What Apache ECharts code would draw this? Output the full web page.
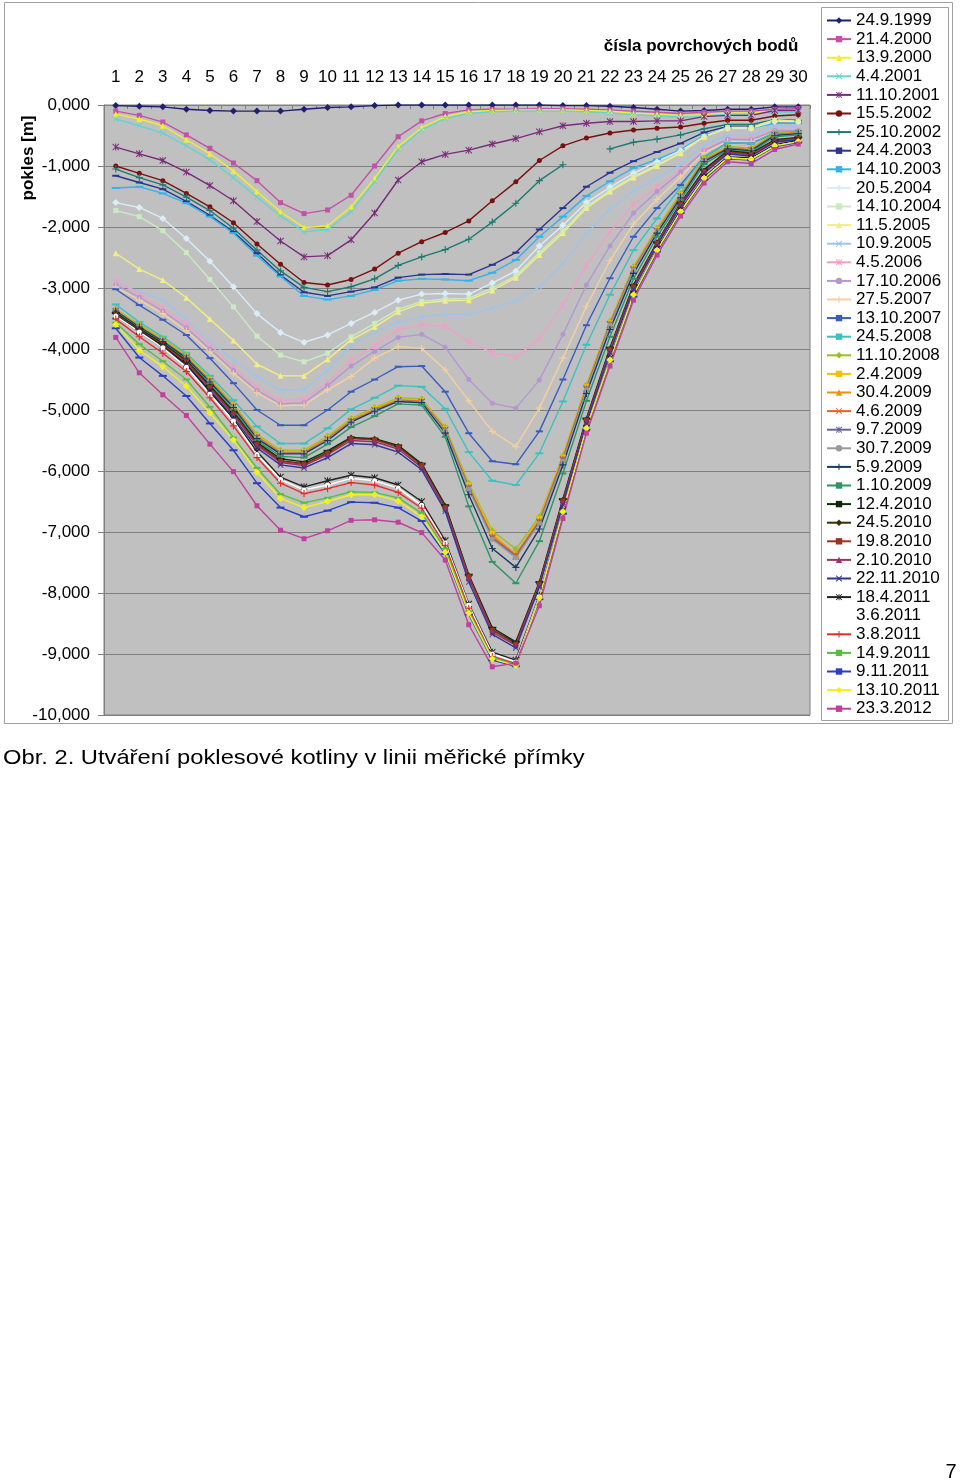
<!DOCTYPE html>
<html><head><meta charset="utf-8">
<script src="https://cdn.jsdelivr.net/npm/echarts@6/dist/echarts.min.js"></script>
<style>html,body{margin:0;padding:0;background:#fff}#c{width:960px;height:1482px}</style>
</head><body><div id="c"></div>
<script>
const categories = ['1','2','3','4','5','6','7','8','9','10','11','12','13','14','15','16','17','18','19','20','21','22','23','24','25','26','27','28','29','30'];
const yMin = -10, yMax = 0, yStep = 1;

const d_24_9_1999 = [-0.01,-0.02,-0.03,-0.07,-0.09,-0.10,-0.10,-0.10,-0.07,-0.04,-0.03,-0.01,0,0,0,0,0,0,0,-0.01,-0.01,-0.02,-0.04,-0.07,-0.10,-0.09,-0.07,-0.07,-0.03,-0.03];
const d_21_4_2000 = [-0.10,-0.17,-0.28,-0.49,-0.71,-0.95,-1.24,-1.60,-1.78,-1.72,-1.48,-1.00,-0.52,-0.26,-0.14,-0.08,-0.07,-0.07,-0.06,-0.06,-0.07,-0.08,-0.10,-0.12,-0.14,-0.12,-0.10,-0.10,-0.07,-0.06];
const d_13_9_2000 = [-0.15,-0.23,-0.34,-0.57,-0.80,-1.08,-1.42,-1.75,-2.01,-1.98,-1.67,-1.20,-0.68,-0.37,-0.19,-0.11,-0.09,-0.08,-0.08,-0.08,-0.09,-0.10,-0.14,-0.15,-0.17,-0.16,-0.13,-0.13,-0.10,-0.10];
const d_4_4_2001 = [-0.23,-0.34,-0.46,-0.67,-0.90,-1.19,-1.51,-1.82,-2.08,-2.04,-1.75,-1.26,-0.73,-0.41,-0.22,-0.14,-0.11,-0.10,-0.10,-0.10,-0.11,-0.13,-0.16,-0.18,-0.20,-0.18,-0.15,-0.15,-0.12,-0.12];
const d_11_10_2001 = [-0.69,-0.80,-0.91,-1.10,-1.32,-1.57,-1.91,-2.23,-2.49,-2.47,-2.21,-1.77,-1.23,-0.93,-0.81,-0.74,-0.64,-0.55,-0.44,-0.34,-0.30,-0.27,-0.27,-0.26,-0.26,-0.19,-0.17,-0.17,-0.09,-0.09];
const d_15_5_2002 = [-1.00,-1.12,-1.24,-1.45,-1.67,-1.93,-2.28,-2.61,-2.91,-2.95,-2.86,-2.69,-2.43,-2.24,-2.09,-1.90,-1.57,-1.26,-0.91,-0.67,-0.54,-0.46,-0.41,-0.38,-0.36,-0.30,-0.25,-0.25,-0.18,-0.16];
const d_25_10_2002 = [-1.05,-1.19,-1.31,-1.51,-1.73,-2.02,-2.38,-2.72,-2.99,-3.06,-2.98,-2.85,-2.63,-2.49,-2.37,-2.20,-1.92,-1.61,-1.24,-0.98,null,-0.72,-0.61,-0.56,-0.49,-0.39,-0.32,-0.32,-0.24,-0.25];
const d_24_4_2003 = [-1.16,-1.27,-1.38,-1.58,-1.81,-2.08,-2.43,-2.79,-3.07,-3.13,-3.06,-2.99,-2.83,-2.78,-2.77,-2.78,-2.62,-2.42,-2.04,-1.69,-1.34,-1.11,-0.92,-0.77,-0.63,-0.45,-0.35,-0.35,-0.28,-0.27];
const d_14_10_2003 = [-1.36,-1.34,-1.45,-1.61,-1.83,-2.10,-2.47,-2.81,-3.13,-3.19,-3.13,-3.03,-2.88,-2.85,-2.86,-2.88,-2.75,-2.54,-2.16,-1.83,-1.49,-1.25,-1.03,-0.89,-0.73,-0.50,-0.38,-0.38,-0.30,-0.30];
const d_20_5_2004 = [-1.60,-1.68,-1.86,-2.19,-2.56,-2.98,-3.42,-3.73,-3.89,-3.77,-3.58,-3.40,-3.20,-3.10,-3.09,-3.10,-2.92,-2.72,-2.31,-1.97,-1.60,-1.35,-1.12,-0.93,-0.75,-0.52,-0.38,-0.38,-0.27,-0.27];
const d_14_10_2004 = [-1.73,-1.83,-2.06,-2.42,-2.86,-3.31,-3.79,-4.10,-4.21,-4.07,-3.80,-3.58,-3.35,-3.22,-3.18,-3.17,-3.00,-2.80,-2.42,-2.06,-1.66,-1.40,-1.17,-0.98,-0.78,-0.52,-0.37,-0.37,-0.25,-0.27];
const d_11_5_2005 = [-2.43,-2.69,-2.87,-3.16,-3.51,-3.86,-4.25,-4.44,-4.44,-4.17,-3.85,-3.64,-3.39,-3.25,-3.21,-3.20,-3.04,-2.83,-2.46,-2.10,-1.69,-1.42,-1.19,-1.00,-0.79,-0.52,-0.37,-0.37,-0.24,-0.27];
const d_10_9_2005 = [-2.92,-3.06,-3.20,-3.51,-3.88,-4.18,-4.45,-4.68,-4.67,-4.35,-3.95,-3.72,-3.56,-3.47,-3.43,-3.43,-3.33,-3.22,-2.98,-2.60,-2.11,-1.71,-1.41,-1.20,-0.98,-0.66,-0.50,-0.50,-0.35,-0.35];
const d_4_5_2006 = [-2.88,-3.10,-3.33,-3.58,-3.93,-4.29,-4.63,-4.85,-4.82,-4.55,-4.18,-3.95,-3.69,-3.60,-3.63,-3.88,-4.06,-4.13,-3.83,-3.28,-2.63,-2.08,-1.63,-1.34,-1.07,-0.74,-0.55,-0.55,-0.40,-0.40];
const d_17_10_2006 = [-2.95,-3.15,-3.38,-3.65,-4.00,-4.35,-4.68,-4.90,-4.88,-4.60,-4.28,-4.04,-3.81,-3.76,-3.97,-4.50,-4.89,-4.97,-4.51,-3.76,-2.95,-2.31,-1.77,-1.42,-1.10,-0.75,-0.56,-0.57,-0.42,-0.42];
const d_27_5_2007 = [-2.98,-3.20,-3.42,-3.70,-4.05,-4.40,-4.72,-4.93,-4.92,-4.67,-4.45,-4.15,-3.96,-3.99,-4.34,-4.85,-5.35,-5.60,-4.97,-4.15,-3.30,-2.55,-1.95,-1.55,-1.18,-0.78,-0.60,-0.60,-0.45,-0.45];
const d_13_10_2007 = [-3.02,-3.28,-3.52,-3.77,-4.15,-4.56,-5.00,-5.25,-5.25,-5.00,-4.70,-4.50,-4.29,-4.28,-4.70,-5.38,-5.84,-5.89,-5.35,-4.50,-3.61,-2.84,-2.16,-1.69,-1.31,-0.85,-0.62,-0.63,-0.46,-0.45];
const d_24_5_2008 = [-3.27,-3.56,-3.80,-4.07,-4.44,-4.84,-5.27,-5.55,-5.55,-5.30,-4.99,-4.80,-4.60,-4.62,-4.98,-5.69,-6.16,-6.23,-5.71,-4.86,-3.93,-3.11,-2.38,-1.86,-1.35,-0.85,-0.62,-0.63,-0.45,-0.43];
const d_11_10_2008 = [-3.35,-3.60,-3.83,-4.10,-4.48,-4.90,-5.40,-5.66,-5.66,-5.43,-5.14,-4.96,-4.80,-4.82,-5.28,-6.20,-6.98,-7.28,-6.75,-5.75,-4.59,-3.55,-2.65,-2.02,-1.45,-0.87,-0.68,-0.71,-0.46,-0.44];
const d_2_4_2009 = [-3.36,-3.62,-3.85,-4.12,-4.50,-4.92,-5.42,-5.68,-5.68,-5.45,-5.16,-4.98,-4.82,-4.84,-5.30,-6.23,-7.02,-7.38,-6.78,-5.77,-4.62,-3.57,-2.67,-2.04,-1.47,-0.89,-0.70,-0.73,-0.48,-0.45];
const d_30_4_2009 = [-3.37,-3.63,-3.86,-4.13,-4.51,-4.93,-5.43,-5.69,-5.69,-5.46,-5.17,-4.99,-4.83,-4.85,-5.31,-6.25,-7.05,-7.36,-6.80,-5.78,-4.63,-3.58,-2.68,-2.05,-1.48,-0.90,-0.70,-0.73,-0.48,-0.45];
const d_4_6_2009 = [-3.37,-3.63,-3.87,-4.14,-4.52,-4.94,-5.44,-5.70,-5.70,-5.47,-5.18,-5.00,-4.84,-4.86,-5.32,-6.27,-7.08,-7.38,-6.82,-5.80,-4.64,-3.59,-2.69,-2.06,-1.49,-0.91,-0.71,-0.74,-0.49,-0.46];
const d_9_7_2009 = [-3.38,-3.64,-3.87,-4.14,-4.53,-4.95,-5.45,-5.71,-5.71,-5.48,-5.19,-5.01,-4.85,-4.87,-5.33,-6.28,-7.10,-7.40,-6.84,-5.82,-4.66,-3.60,-2.70,-2.07,-1.50,-0.92,-0.71,-0.74,-0.49,-0.46];
const d_30_7_2009 = [-3.38,-3.64,-3.88,-4.15,-4.53,-4.95,-5.45,-5.71,-5.71,-5.48,-5.19,-5.01,-4.85,-4.87,-5.34,-6.30,-7.12,-7.42,-6.86,-5.84,-4.67,-3.61,-2.71,-2.07,-1.50,-0.92,-0.72,-0.75,-0.50,-0.46];
const d_5_9_2009 = [-3.38,-3.64,-3.88,-4.15,-4.54,-4.96,-5.47,-5.72,-5.72,-5.50,-5.20,-5.02,-4.86,-4.88,-5.38,-6.39,-7.27,-7.58,-6.95,-5.90,-4.73,-3.68,-2.76,-2.10,-1.52,-0.93,-0.72,-0.75,-0.50,-0.47];
const d_1_10_2009 = [-3.40,-3.66,-3.90,-4.18,-4.58,-5.00,-5.50,-5.76,-5.78,-5.56,-5.28,-5.10,-4.90,-4.92,-5.44,-6.58,-7.49,-7.84,-7.15,-6.04,-4.85,-3.80,-2.85,-2.16,-1.56,-0.97,-0.74,-0.77,-0.52,-0.49];
const d_12_4_2010 = [-3.41,-3.67,-3.91,-4.19,-4.60,-5.03,-5.53,-5.80,-5.85,-5.67,-5.45,-5.47,-5.58,-5.88,-6.56,-7.70,-8.57,-8.80,-7.82,-6.46,-5.14,-3.98,-2.95,-2.25,-1.61,-1.06,-0.75,-0.79,-0.57,-0.53];
const d_24_5_2010 = [-3.42,-3.68,-3.92,-4.20,-4.62,-5.05,-5.55,-5.83,-5.88,-5.70,-5.46,-5.48,-5.60,-5.90,-6.58,-7.72,-8.60,-8.82,-7.84,-6.48,-5.16,-4.00,-2.97,-2.26,-1.62,-1.08,-0.76,-0.80,-0.58,-0.54];
const d_19_8_2010 = [-3.43,-3.69,-3.93,-4.21,-4.63,-5.06,-5.56,-5.84,-5.89,-5.71,-5.47,-5.49,-5.61,-5.91,-6.60,-7.73,-8.61,-8.84,-7.85,-6.49,-5.17,-4.01,-2.98,-2.27,-1.63,-1.09,-0.77,-0.81,-0.59,-0.55];
const d_2_10_2010 = [-3.44,-3.70,-3.95,-4.23,-4.65,-5.08,-5.58,-5.86,-5.91,-5.73,-5.50,-5.52,-5.64,-5.94,-6.62,-7.76,-8.64,-8.86,-7.87,-6.51,-5.19,-4.03,-3.00,-2.28,-1.64,-1.10,-0.78,-0.82,-0.60,-0.56];
const d_22_11_2010 = [-3.46,-3.72,-3.98,-4.26,-4.68,-5.12,-5.62,-5.90,-5.95,-5.78,-5.55,-5.57,-5.69,-5.98,-6.66,-7.82,-8.68,-8.90,-7.90,-6.55,-5.22,-4.06,-3.02,-2.30,-1.66,-1.12,-0.80,-0.84,-0.61,-0.57];
const d_18_4_2011 = [-3.45,-3.70,-3.95,-4.25,-4.70,-5.15,-5.68,-6.10,-6.26,-6.16,-6.07,-6.11,-6.23,-6.50,-7.14,-8.18,-8.97,-9.10,-8.04,-6.65,-5.30,-4.15,-3.10,-2.36,-1.72,-1.18,-0.85,-0.87,-0.65,-0.58];
const d_3_6_2011 = [-3.46,-3.72,-3.98,-4.30,-4.74,-5.18,-5.73,-6.14,-6.31,-6.23,-6.12,-6.16,-6.28,-6.56,-7.18,-8.20,-9.00,-9.13,-8.06,-6.67,-5.30,-4.18,-3.12,-2.38,-1.75,-1.20,-0.87,-0.89,-0.67,-0.60];
const d_3_8_2011 = [-3.51,-3.80,-4.07,-4.37,-4.80,-5.26,-5.78,-6.20,-6.37,-6.29,-6.19,-6.23,-6.35,-6.61,-7.22,-8.25,-9.04,-9.16,-8.10,-6.70,-5.32,-4.20,-3.14,-2.40,-1.76,-1.22,-0.88,-0.90,-0.68,-0.61];
const d_14_9_2011 = [-3.57,-3.92,-4.20,-4.50,-4.95,-5.45,-5.95,-6.38,-6.52,-6.44,-6.34,-6.35,-6.44,-6.69,-7.28,-8.30,-9.06,-9.18,-8.10,-6.68,-5.30,-4.20,-3.13,-2.40,-1.76,-1.22,-0.88,-0.90,-0.68,-0.61];
const d_9_11_2011 = [-3.66,-4.14,-4.44,-4.77,-5.22,-5.66,-6.20,-6.60,-6.75,-6.65,-6.51,-6.52,-6.60,-6.82,-7.36,-8.35,-9.10,-9.20,-8.10,-6.70,-5.32,-4.20,-3.14,-2.40,-1.77,-1.22,-0.88,-0.90,-0.68,-0.61];
const d_13_10_2011 = [-3.60,-4.02,-4.29,-4.61,-5.05,-5.49,-6.02,-6.45,-6.60,-6.50,-6.39,-6.39,-6.49,-6.75,-7.33,-8.33,-9.08,-9.19,-8.08,-6.67,-5.30,-4.18,-3.11,-2.38,-1.75,-1.20,-0.87,-0.89,-0.67,-0.60];
const d_23_3_2012 = [-3.81,-4.39,-4.75,-5.09,-5.56,-6.01,-6.57,-6.97,-7.11,-6.98,-6.81,-6.80,-6.84,-7.01,-7.46,-8.52,-9.21,-9.15,-8.21,-6.78,-5.38,-4.28,-3.20,-2.46,-1.82,-1.28,-0.93,-0.96,-0.73,-0.64];

const seriesNames = ['24.9.1999','21.4.2000','13.9.2000','4.4.2001','11.10.2001','15.5.2002','25.10.2002','24.4.2003','14.10.2003','20.5.2004','14.10.2004','11.5.2005','10.9.2005','4.5.2006','17.10.2006','27.5.2007','13.10.2007','24.5.2008','11.10.2008','2.4.2009','30.4.2009','4.6.2009','9.7.2009','30.7.2009','5.9.2009','1.10.2009','12.4.2010','24.5.2010','19.8.2010','2.10.2010','22.11.2010','18.4.2011','3.6.2011','3.8.2011','14.9.2011','9.11.2011','13.10.2011','23.3.2012'];
const seriesData = [d_24_9_1999,d_21_4_2000,d_13_9_2000,d_4_4_2001,d_11_10_2001,d_15_5_2002,d_25_10_2002,d_24_4_2003,d_14_10_2003,d_20_5_2004,d_14_10_2004,d_11_5_2005,d_10_9_2005,d_4_5_2006,d_17_10_2006,d_27_5_2007,d_13_10_2007,d_24_5_2008,d_11_10_2008,d_2_4_2009,d_30_4_2009,d_4_6_2009,d_9_7_2009,d_30_7_2009,d_5_9_2009,d_1_10_2009,d_12_4_2010,d_24_5_2010,d_19_8_2010,d_2_10_2010,d_22_11_2010,d_18_4_2011,d_3_6_2011,d_3_8_2011,d_14_9_2011,d_9_11_2011,d_13_10_2011,d_23_3_2012];

// styling (not data)
const colors = ['#1f2070','#c352a6','#eeee33','#66d2d2','#7a2a7a','#7a1010','#1a7a72','#2a3590','#30b4ea','#d8eef8','#c8ecc0','#f3ee80','#9cc4ec','#f0a0c8','#b696d0','#f5cfa0','#3a5cc0','#3cc0c0','#99c020','#f2c200','#f09010','#f06020','#666699','#999999','#1a3a66','#2f9466','#0a2a0a','#333300','#993322','#993366','#333399','#222222','#ffffff','#e82a2a','#55c040','#2a3ec8','#f2f020','#c040a0'];
const P_X = 'path://M1,0L5,4L9,0L10,1L6,5L10,9L9,10L5,6L1,10L0,9L4,5L0,1Z';
const P_STAR = 'path://M1,0L5,4L9,0L10,1L6,5L10,9L9,10L5,6L1,10L0,9L4,5L0,1Z M4.3,0H5.7V10H4.3Z';
const P_PLUS = 'path://M4.2,0H5.8V4.2H10V5.8H5.8V10H4.2V5.8H0V4.2H4.2Z';
const markerCycle = [['diamond',7],['rect',5],['triangle',6],[P_X,6],[P_STAR,7],['circle',5],[P_PLUS,7],['rect',[7,2]],['rect',[8,2]]];

const FONT = '"Liberation Sans", Arial, sans-serif';
const chart = echarts.init(document.getElementById('c'), null, {renderer:'canvas'});

const series = seriesNames.map((name, i) => {
  const m = markerCycle[i % 9];
  return {
    name: name, type: 'line', data: seriesData[i],
    symbol: m[0], symbolSize: m[1], showSymbol: true,
    connectNulls: false,
    lineStyle: {width: 1.4, color: colors[i]},
    itemStyle: {color: colors[i]},
    emphasis: {disabled: true},
    animation: false
  };
});

chart.setOption({
  animation: false,
  backgroundColor: '#ffffff',
  textStyle: {fontFamily: FONT},
  grid: {left: 104, right: 150, top: 105, bottom: 767, show: true, backgroundColor: '#c0c0c0', borderColor: '#808080', borderWidth: 1},
  xAxis: {
    type: 'category', data: categories, position: 'top', boundaryGap: true,
    axisLine: {show: true, lineStyle: {color: '#808080', width: 1}},
    axisTick: {show: true, inside: true, length: 4, lineStyle: {color: '#808080'}},
    axisLabel: {color: '#000', fontSize: 17, margin: 19, fontFamily: FONT, interval: 0},
    splitLine: {show: false}
  },
  yAxis: {
    type: 'value', min: yMin, max: yMax, interval: yStep,
    axisLine: {show: true, lineStyle: {color: '#808080', width: 1}},
    axisTick: {show: true, length: 6, lineStyle: {color: '#808080'}},
    axisLabel: {color: '#000', fontSize: 17, margin: 14, fontFamily: FONT,
      formatter: v => v.toFixed(3).replace('.', ',')},
    splitLine: {show: true, lineStyle: {color: '#808080', width: 1}}
  },
  legend: {
    show: true, orient: 'vertical', left: 826, top: 12, padding: 0,
    itemWidth: 24, itemHeight: 8, itemGap: 1.6,
    textStyle: {fontSize: 17, color: '#000', fontFamily: FONT},
    data: seriesNames, selectedMode: false
  },
  graphic: [
    {type: 'rect', z: -1, shape: {x: 4.5, y: 2.5, width: 948, height: 721}, style: {fill: null, stroke: '#a0a0a0', lineWidth: 1}},
    {type: 'rect', z: 0, shape: {x: 821.5, y: 7.5, width: 127, height: 713}, style: {fill: null, stroke: '#a0a0a0', lineWidth: 1}},
    {type: 'text', x: 28, y: 158, rotation: Math.PI / 2, style: {text: 'pokles [m]', font: 'bold 17px ' + FONT, fill: '#000', textAlign: 'center', textVerticalAlign: 'middle'}},
    {type: 'text', x: 701, y: 46, style: {text: 'čísla povrchových bodů', font: 'bold 17px ' + FONT, fill: '#000', textAlign: 'center', textVerticalAlign: 'middle'}},
    {type: 'text', x: 3, y: 758, scaleX: 1.13, style: {text: 'Obr. 2. Utváření poklesové kotliny v linii měřické přímky', font: '21px ' + FONT, fill: '#000', textAlign: 'left', textVerticalAlign: 'middle'}},
    {type: 'text', x: 951, y: 1472, style: {text: '7', font: '20px ' + FONT, fill: '#000', textAlign: 'center', textVerticalAlign: 'middle'}}
  ],
  series: series
});
</script>
</body></html>
